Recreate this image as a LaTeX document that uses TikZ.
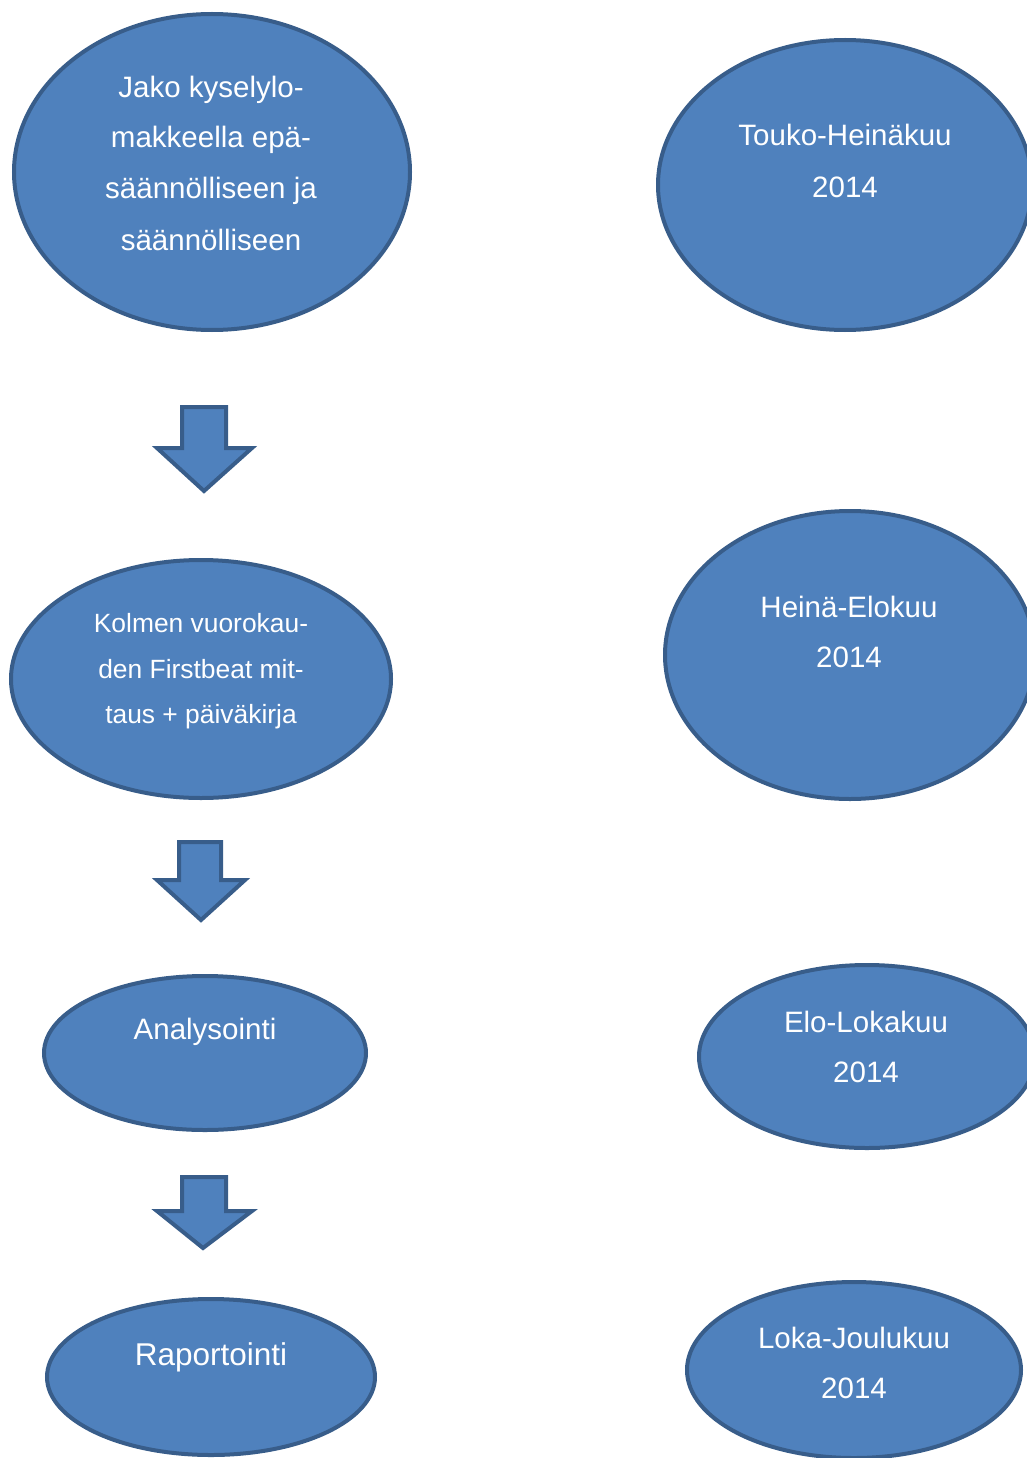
\documentclass[tikz,border=0pt]{standalone}
\usepackage{fontspec}
\setmainfont{Liberation Sans}
\usetikzlibrary{shapes.geometric}
\definecolor{ovalfill}{HTML}{4F81BD}
\definecolor{ovalline}{HTML}{385D8A}
\tikzset{
  oval/.style={ellipse, draw=ovalline, fill=ovalfill, line width=4pt, inner sep=0pt},
  blockarrow/.style={draw=ovalline, fill=ovalfill, line width=4pt, line join=miter},
  lbl/.style={text=white, anchor=base, inner sep=0pt, font=\fontsize{29.5}{34}\selectfont},
  lblsmall/.style={lbl, font=\fontsize{26.4}{30}\selectfont},
  lblbig/.style={lbl, font=\fontsize{31.5}{36}\selectfont}
}
\begin{document}
\begin{tikzpicture}[x=1pt,y=-1pt]
\useasboundingbox (0,0) rectangle (1027,1458);
\clip (0,0) rectangle (1027,1458);

% ellipses
\node[oval, minimum width=396pt, minimum height=316pt] (e1) at (212,172) {};
\node[oval, minimum width=374pt, minimum height=290pt] (r1) at (845,185) {};
\node[oval, minimum width=380pt, minimum height=238pt] (e2) at (201,679) {};
\node[oval, minimum width=370pt, minimum height=288pt] (r2) at (850,655) {};
\node[oval, minimum width=322pt, minimum height=154pt] (e3) at (205,1053) {};
\node[oval, minimum width=336pt, minimum height=183pt] (r3) at (867,1056.5) {};
\node[oval, minimum width=328pt, minimum height=156pt] (e4) at (211,1377) {};
\node[oval, minimum width=334pt, minimum height=176pt] (r4) at (854,1370) {};

% block arrows
\draw[blockarrow] (182,407) -- (226,407) -- (226,448) -- (252,448) -- (204,491)
  -- (157,448) -- (182,448) -- cycle;
\draw[blockarrow] (179,842) -- (221,842) -- (221,880) -- (245,880) -- (201,920)
  -- (157,880) -- (179,880) -- cycle;
\draw[blockarrow] (182,1177) -- (226,1177) -- (226,1211) -- (252,1211) -- (203,1248)
  -- (157,1211) -- (182,1211) -- cycle;

% texts
\node[lbl] (t1a) at (211,98) {Jako kyselylo-};
\node[lbl] (t1b) at (211,148) {makkeella epä-};
\node[lbl] (t1c) at (211,199) {säännölliseen ja};
\node[lbl] (t1d) at (211,250) {säännölliseen};

\node[lbl] (s1a) at (845,146) {Touko-Heinäkuu};
\node[lbl] (s1b) at (845,197) {2014};

\node[lblsmall] (t2a) at (201,632) {Kolmen vuorokau-};
\node[lblsmall] (t2b) at (201,678) {den Firstbeat mit-};
\node[lblsmall] (t2c) at (201,723) {taus + päiväkirja};

\node[lbl] (s2a) at (849,617) {Heinä-Elokuu};
\node[lbl] (s2b) at (849,667) {2014};

\node[lbl] (t3a) at (205,1039) {Analysointi};

\node[lbl] (s3a) at (866,1032) {Elo-Lokakuu};
\node[lbl] (s3b) at (866,1082) {2014};

\node[lblbig] (t4a) at (211,1365) {Raportointi};

\node[lbl] (s4a) at (854,1348) {Loka-Joulukuu};
\node[lbl] (s4b) at (854,1398) {2014};
\end{tikzpicture}
\end{document}
